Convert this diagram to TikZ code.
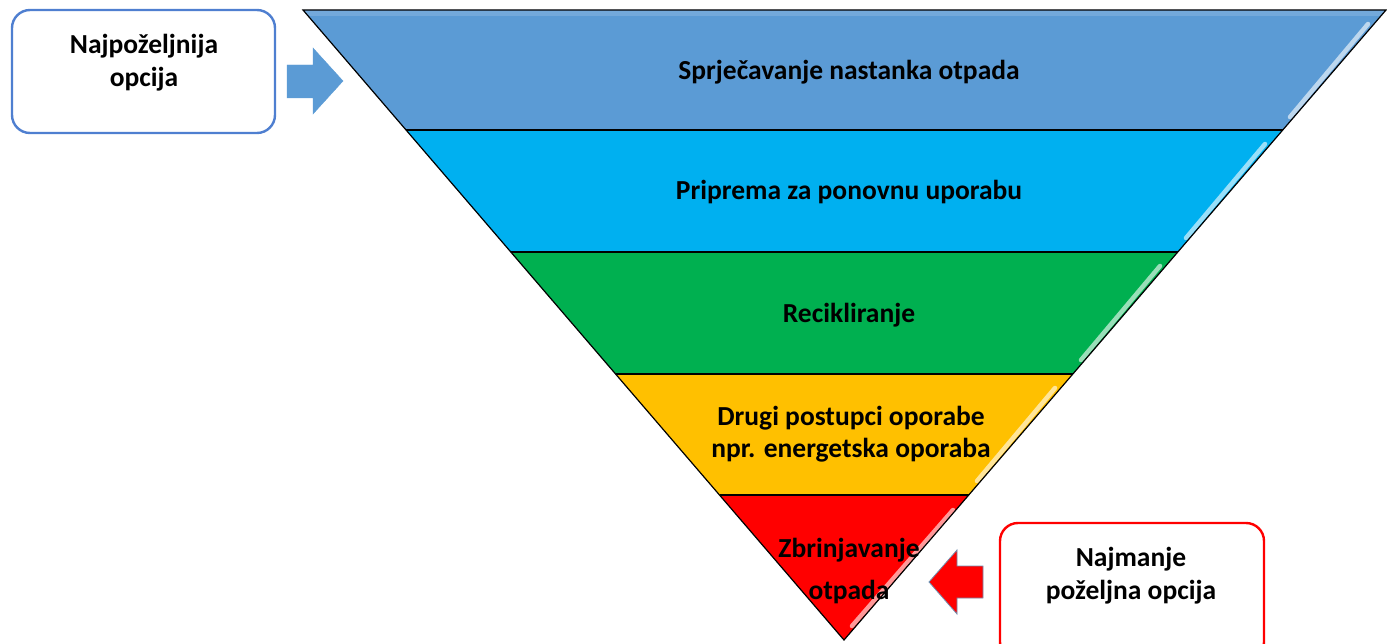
\documentclass[tikz,border=0pt]{standalone}
\usepackage{fontspec}
\setmainfont{Carlito}
\definecolor{bandA}{HTML}{5B9BD5}
\definecolor{bandB}{HTML}{00B0F0}
\definecolor{bandC}{HTML}{00B050}
\definecolor{bandD}{HTML}{FFC000}
\definecolor{bandE}{HTML}{FF0000}
\definecolor{boxblue}{HTML}{4F7FD0}
\definecolor{arrblue}{HTML}{5B9BD5}
\definecolor{arredge}{HTML}{6F8FB0}
\begin{document}
\begin{tikzpicture}[x=1pt,y=-1pt,
  band/.style={draw=black,line width=1.2pt,line join=miter},
  gloss/.style={draw=white,draw opacity=0.6,line width=4.5pt,line cap=round},
  lbl/.style={font=\bfseries\fontsize{27.5}{32}\selectfont,align=center,text=black,inner sep=0pt},
  optbox/.style={draw,line width=2.4pt,rounded corners=18pt,fill=white},
  optlbl/.style={font=\bfseries\fontsize{27.5}{33}\selectfont,align=center,text=black,inner sep=0pt}]
\useasboundingbox (0,0) rectangle (1387,644);
% bands
\fill[bandA] (303,10) -- (1386,10) -- (1282.8,130) -- (406,130) -- cycle;
\fill[bandB] (406,130) -- (1282.8,130) -- (1177.8,252) -- (510.8,252) -- cycle;
\fill[bandC] (510.8,252) -- (1177.8,252) -- (1072.9,374) -- (615.6,374) -- cycle;
\fill[bandD] (615.6,374) -- (1072.9,374) -- (968.8,495) -- (719.5,495) -- cycle;
\fill[bandE] (719.5,495) -- (968.8,495) -- (844,640) -- cycle;
% top shading of bands
\fill[white,opacity=0.15] (303,10) -- (1386,10) -- (1381,16) -- (308,16) -- cycle;
% gloss stripes
\draw[gloss] (1368,24) -- (1290,117);
\draw[gloss] (1265,144) -- (1186,238);
\draw[gloss] (1160,266) -- (1081,360);
\draw[gloss] (1055,388) -- (977,481);
\draw[gloss] (953,510) -- (852,626);
% outlines
\draw[band] (303,10) -- (1386,10) -- (844,640) -- cycle;
\draw[band] (406,130) -- (1282.8,130);
\draw[band] (510.8,252) -- (1177.8,252);
\draw[band] (615.6,374) -- (1072.9,374);
\draw[band] (719.5,495) -- (968.8,495);
% labels
\node[lbl] (l1) at (849,72) {Sprječavanje nastanka otpada};
\node[lbl] (l2) at (849,192) {Priprema za ponovnu uporabu};
\node[lbl] (l3) at (849,315) {Recikliranje};
\node[lbl] (l4) at (851,434) {Drugi postupci oporabe\\npr. energetska oporaba};
\node[lbl,font=\bfseries\fontsize{27.5}{42}\selectfont] (l5) at (849,571) {Zbrinjavanje\\otpada};
% option boxes
\draw[optbox,draw=boxblue] (12,10) rectangle (275,133);
\node[optlbl] (best) at (144,63) {Najpoželjnija\\opcija};
\draw[optbox,draw=bandE] (1000,523) rectangle (1264,660);
\node[optlbl] (worst) at (1131,576) {Najmanje\\poželjna opcija};
% block arrows
\filldraw[fill=arrblue,draw=arrblue] (287,65) -- (313,65) -- (313,48) -- (343,81) -- (313,114) -- (313,98) -- (287,98) -- cycle;
\filldraw[fill=bandE,draw=arredge,line width=0.8pt] (983,566) -- (957,566) -- (957,550) -- (929,582) -- (957,614) -- (957,598) -- (983,598) -- cycle;
\end{tikzpicture}
\end{document}
